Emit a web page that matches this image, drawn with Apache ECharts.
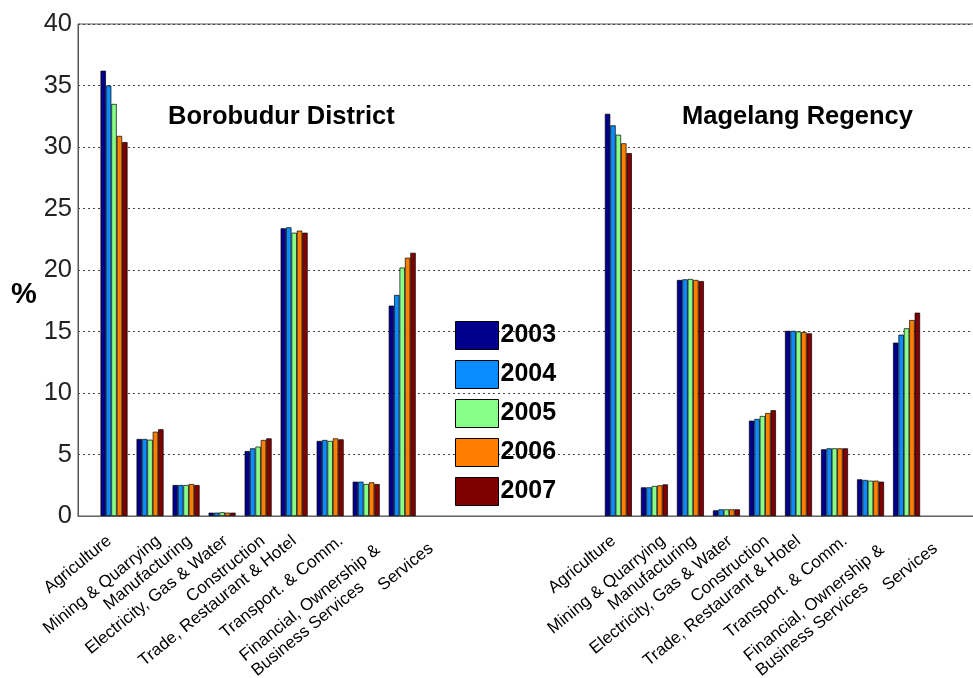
<!DOCTYPE html>
<html style="height: 100%">
<head>
<meta charset="utf-8">
<script src="https://cdn.jsdelivr.net/npm/echarts@6/dist/echarts.min.js"></script>
</head>
<body style="height: 100%; margin: 0; background: #fff">
<div id="container" style="width: 973px; height: 678px"></div>
<script>
var sectors = ['Agriculture', 'Mining & Quarrying', 'Manufacturing', 'Electricity, Gas & Water',
  'Construction', 'Trade, Restaurant & Hotel', 'Transport. & Comm.',
  'Financial, Ownership &\nBusiness Services', 'Services'];
var years = ['2003', '2004', '2005', '2006', '2007'];
var colors = ['#00008c', '#0a8cff', '#88ff88', '#ff8000', '#800000'];

// slot where each district's first sector sits on the x axis
var boroStart = 1;
var magStart = 15;
var xMax = 24.9;

// one row per sector, one value per year (%)
var borobudur = [
  [36.2, 35.0, 33.5, 30.9, 30.4],
  [6.26, 6.26, 6.2, 6.85, 7.05],
  [2.52, 2.52, 2.52, 2.6, 2.52],
  [0.27, 0.27, 0.3, 0.27, 0.27],
  [5.28, 5.5, 5.64, 6.18, 6.31],
  [23.39, 23.47, 23.03, 23.2, 23.03],
  [6.1, 6.18, 6.1, 6.31, 6.23],
  [2.79, 2.79, 2.6, 2.74, 2.6],
  [17.1, 17.97, 20.2, 21.0, 21.4]
];
var magelang = [
  [32.7, 31.76, 31.0, 30.3, 29.5],
  [2.33, 2.33, 2.44, 2.49, 2.57],
  [19.19, 19.24, 19.27, 19.19, 19.1],
  [0.46, 0.54, 0.54, 0.54, 0.54],
  [7.75, 7.89, 8.13, 8.37, 8.6],
  [15.05, 15.05, 15.0, 14.95, 14.85],
  [5.42, 5.5, 5.5, 5.5, 5.5],
  [2.98, 2.93, 2.87, 2.87, 2.79],
  [14.09, 14.74, 15.26, 15.93, 16.53]
];

// the rotated labels in the original sit a little off their bars
var labelShift = [-0.13, 0.24, 0.1, 0.1, 0.13, 0.0, 0.3, 1.05, 1.06];
var labelPad = [0, 0, 0, 0, 0, 0, 0, 26, 12];

// blank labels at both ends so the min/max overlap check leaves the real ones alone
var labelValues = [0];
var labelIndex = {};
[boroStart, magStart].forEach(function (start) {
  sectors.forEach(function (s, i) {
    var v = +(start + i + labelShift[i]).toFixed(3);
    labelValues.push(v);
    labelIndex[String(v)] = i;
  });
});
labelValues.push(xMax);

var rich = {};
labelPad.forEach(function (p, i) {
  rich['a' + i] = { fontFamily: 'Liberation Sans', fontSize: 17, color: '#000', lineHeight: 19, align: 'left', padding: [0, p, 0, 0] };
});

var series = years.map(function (y, k) {
  var data = [];
  for (var i = 0; i < sectors.length; i++) {
    data.push([boroStart + i, borobudur[i][k]]);
    data.push([magStart + i, magelang[i][k]]);
  }
  return {
    name: y,
    type: 'bar',
    data: data,
    barWidth: 5.4,
    barGap: '0%',
    itemStyle: { color: colors[k], borderColor: '#000', borderWidth: 0.7 }
  };
});

var myChart = echarts.init(document.getElementById('container'));
var option = {
  animation: false,
  title: [
    { text: '%', left: 6, top: 275, textStyle: { fontFamily: 'Liberation Sans', fontSize: 29, fontWeight: 'bold', color: '#000' } },
    { text: 'Borobudur District', left: 163, top: 99, textStyle: { fontFamily: 'Liberation Sans', fontSize: 25.5, fontWeight: 'bold', color: '#000' } },
    { text: 'Magelang Regency', left: 677, top: 99, textStyle: { fontFamily: 'Liberation Sans', fontSize: 25.5, fontWeight: 'bold', color: '#000' } }
  ],
  legend: {
    orient: 'vertical',
    left: 450,
    top: 316,
    itemWidth: 43,
    itemHeight: 28,
    itemGap: 10,
    icon: 'rect',
    itemStyle: { borderColor: '#000', borderWidth: 1 },
    textStyle: { fontFamily: 'Liberation Sans', fontSize: 25, fontWeight: 'bold', color: '#000', padding: [0, 0, 0, -3] },
    data: years
  },
  grid: {
    left: 78, right: -2, top: 24, bottom: 162,
    outerBoundsMode: 'none', containLabel: false,
    show: true, borderColor: '#555', borderWidth: 1
  },
  xAxis: {
    type: 'value',
    min: 0,
    max: xMax,
    interval: 1,
    splitLine: { show: false },
    axisTick: { show: false },
    axisLine: { lineStyle: { color: '#666' } },
    axisLabel: {
      customValues: labelValues,
      rotate: 39,
      margin: 23,
      hideOverlap: false,
      showMinLabel: false,
      showMaxLabel: false,
      fontFamily: 'Liberation Sans',
      fontSize: 17,
      color: '#000',
      formatter: function (v) {
        var i = labelIndex[String(+v.toFixed(3))];
        if (i === undefined) return '';
        return sectors[i].split('\n').map(function (line) { return '{a' + i + '|' + line + '}'; }).join('\n');
      },
      rich: rich
    }
  },
  yAxis: {
    type: 'value',
    min: 0,
    max: 40,
    interval: 5,
    axisLine: { show: true, lineStyle: { color: '#555' } },
    axisTick: { show: false },
    axisLabel: { fontFamily: 'Liberation Sans', fontSize: 25.5, color: '#222', margin: 6 },
    splitLine: { lineStyle: { color: '#444', type: [2, 3] } }
  },
  series: series
};
myChart.setOption(option);
</script>
</body>
</html>
